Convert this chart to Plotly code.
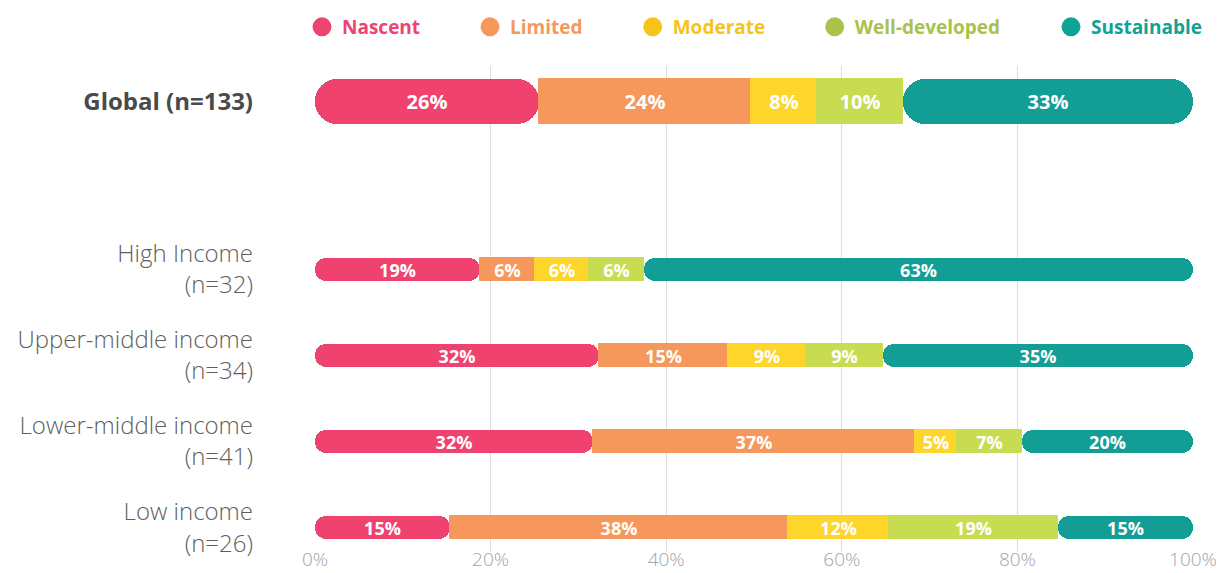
import plotly.graph_objects as go

# Country groups and maturity levels
groups = ["Global", "High Income", "Upper-middle income", "Lower-middle income", "Low income"]
levels = ["Nascent", "Limited", "Moderate", "Well-developed", "Sustainable"]

# Number of countries at each maturity level, per group
nascent = [34, 6, 11, 13, 4]
limited = [32, 2, 5, 15, 10]
moderate = [10, 2, 3, 2, 3]
well_developed = [13, 2, 3, 3, 5]
sustainable = [44, 20, 12, 8, 4]

x_ticks = [0, 20, 40, 60, 80, 100]

bar_colors = ["#EF426F", "#F6975B", "#FED52B", "#C8DC52", "#129E94"]
legend_colors = ["#EE4470", "#F6975C", "#F6C419", "#A9C24C", "#0FA396"]

# Vertical slot of each group (Global sits apart from the income groups)
y_pos = [0, 1.94, 2.94, 3.94, 4.94]
bar_thickness = [0.522, 0.267, 0.267, 0.267, 0.267]
text_size = [20, 18, 18, 18, 18]

series = [nascent, limited, moderate, well_developed, sustainable]
totals = [sum(col) for col in zip(*series)]
shares = [[100.0 * c / n for c, n in zip(s, totals)] for s in series]

# Start of each segment along the row
starts = []
left = [0.0] * len(groups)
for share in shares:
    starts.append(list(left))
    left = [l + v for l, v in zip(left, share)]

fig = go.Figure()

# Coloured segments: the two outer segments (rounded ends) first,
# then the inner ones on top with a hairline of their own colour so no seam shows
last = len(levels) - 1
for i in [0, last] + list(range(1, last)):
    share = shares[i]
    if i == 0:
        # first segment drawn from its right edge back to 0 so the 0 end is rounded
        base = share
        length = [-v for v in share]
    else:
        base = starts[i]
        length = share
    rounded = i in (0, last)
    edge = dict(width=0) if rounded else dict(width=1, color=bar_colors[i])
    fig.add_trace(go.Bar(
        orientation="h",
        y=y_pos,
        x=length,
        base=base,
        width=bar_thickness,
        marker=dict(color=bar_colors[i], cornerradius="50%" if rounded else 0, line=edge),
        name=levels[i],
        showlegend=False,
        hoverinfo="skip",
    ))

# Percentage labels, centred on each segment
for i, level in enumerate(levels):
    fig.add_trace(go.Bar(
        orientation="h",
        y=y_pos,
        x=shares[i],
        base=starts[i],
        width=bar_thickness,
        customdata=shares[i],
        texttemplate="%{customdata:.0f}%",
        textposition="inside",
        insidetextanchor="middle",
        constraintext="none",
        textangle=0,
        textfont=dict(family="Open Sans", size=text_size, color="white", weight=700),
        marker=dict(color="rgba(0,0,0,0)", line=dict(width=0)),
        name=level,
        showlegend=False,
        hoverinfo="skip",
    ))

# Legend entries: one circle marker per level, each in its own legend box
legend_x = [322, 490, 652.7, 834.7, 1071]
legend_names = ["legend", "legend2", "legend3", "legend4", "legend5"]
for i, level in enumerate(levels):
    fig.add_trace(go.Scatter(
        x=[None], y=[None],
        mode="markers",
        marker=dict(size=16, color=legend_colors[i], symbol="circle",
                    line=dict(width=3, color=legend_colors[i])),
        name=level,
        legend=legend_names[i],
        showlegend=True,
        hoverinfo="skip",
    ))

W, H = 1220, 573
legend_layout = {}
for i, key in enumerate(legend_names):
    legend_layout[key] = dict(
        orientation="h",
        xref="container", yref="container",
        x=(legend_x[i] - 20) / W, xanchor="left",
        y=1 - 27 / H, yanchor="middle",
        bgcolor="rgba(0,0,0,0)",
        borderwidth=0,
        font=dict(family="Open Sans", size=19, color=legend_colors[i], weight=700),
        itemclick=False, itemdoubleclick=False,
    )

tick_text = []
for g, n in zip(groups, totals):
    if g == "Global":
        tick_text.append(f"<span style='color:#4a4a4a'><b>{g} (n={n})</b></span>")
    else:
        tick_text.append(f"{g}<br>(n={n})")

fig.update_layout(
    width=W, height=H,
    margin=dict(l=315, r=27, t=66, b=21),
    barmode="overlay",
    bargap=0,
    bargroupgap=0,
    paper_bgcolor="white",
    plot_bgcolor="white",
    font=dict(family="Open Sans", color="#555555"),
    xaxis=dict(
        range=[0, 100],
        tickvals=x_ticks,
        ticktext=[f"{v}%" for v in x_ticks],
        showgrid=True,
        gridcolor="#dddddd",
        gridwidth=1,
        zeroline=False,
        showline=False,
        ticks="",
        automargin=False,
        ticklabelstandoff=-6,
        tickfont=dict(family="Open Sans", size=19, color="#a3a3a3", weight=300),
        fixedrange=True,
    ),
    yaxis=dict(
        range=[5.223, -0.415],
        tickvals=y_pos,
        ticktext=tick_text,
        showgrid=False,
        zeroline=False,
        showline=False,
        ticks="",
        automargin=False,
        ticklabelstandoff=61,
        tickfont=dict(family="Open Sans", size=24, color="#5e5e5e", weight=300),
        fixedrange=True,
    ),
    **legend_layout,
)

fig.write_html("out.html")
